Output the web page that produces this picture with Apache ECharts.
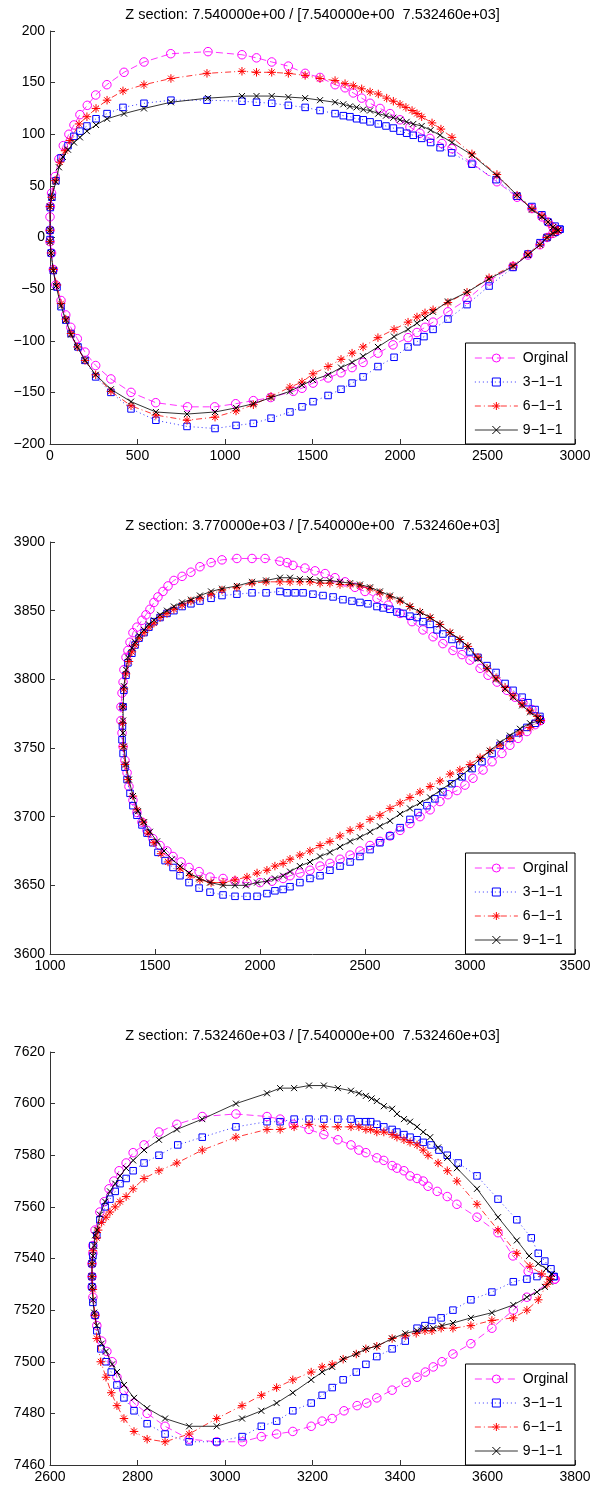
<!DOCTYPE html>
<html><head><meta charset="utf-8">
<script src="https://cdn.jsdelivr.net/npm/echarts@6/dist/echarts.min.js"></script>
<style>html,body{margin:0;padding:0;background:#fff}#c{width:592px;height:1488px}</style>
</head><body><div id="c"></div>
<script>
// ---------- DATA ----------
const seriesNames = ['Orginal', '3\u22121\u22121', '6\u22121\u22121', '9\u22121\u22121'];
const titles = [
  'Z section: 7.540000e+00 / [7.540000e+00  7.532460e+03]',
  'Z section: 3.770000e+03 / [7.540000e+00  7.532460e+03]',
  'Z section: 7.532460e+03 / [7.540000e+00  7.532460e+03]'
];
const xRanges = [[0, 3000, 500], [1000, 3500, 500], [2600, 3800, 200]];
const yRanges = [[-200, 200, 50], [3600, 3900, 50], [7460, 7620, 20]];

// Section 1
const p1Orig = [[2903,7],[2874,10],[2846,15],[2811,20],[2754,28],[2669,39],[2554,54],[2411,72],[2297,86],[2240,91],[2171,96],[2114,101],[2057,107],[2000,114],[1943,120],[1886,125],[1829,130],[1781,135],[1733,140],[1686,145],[1629,148],[1543,155],[1458,159],[1362,166],[1267,170],[1180,174],[1097,177],[903,180],[690,178],[537,170],[423,160],[325,148],[261,138],[213,128],[171,119],[137,109],[108,100],[76,89],[51,76],[29,59],[9,43],[2,30],[0,20],[0,7],[0,-4],[9,-15],[19,-31],[33,-46],[63,-61],[90,-75],[119,-87],[156,-98],[200,-111],[261,-124],[348,-137],[463,-150],[604,-160],[786,-164],[941,-164],[1061,-161],[1162,-158],[1261,-155],[1390,-149],[1440,-146],[1503,-141],[1589,-136],[1663,-131],[1726,-126],[1789,-121],[1874,-112],[1960,-104],[2046,-97],[2097,-92],[2143,-87],[2189,-82],[2274,-72],[2383,-60],[2509,-42],[2646,-28],[2731,-17],[2800,-7],[2840,0],[2874,4],[2903,7]];
const p1S3 = [[2914,8],[2886,11],[2846,15],[2811,22],[2754,30],[2669,40],[2549,56],[2411,71],[2295,82],[2229,87],[2175,92],[2124,96],[2076,99],[2038,101],[2000,103],[1962,106],[1920,108],[1876,110],[1829,112],[1790,114],[1752,115],[1714,117],[1676,118],[1629,120],[1543,123],[1458,126],[1362,128],[1267,130],[1180,131],[1097,132],[897,133],[691,133],[537,130],[417,126],[326,120],[263,115],[211,108],[171,103],[137,98],[103,89],[63,77],[34,55],[11,39],[2,29],[0,7],[0,-2],[6,-15],[19,-32],[40,-48],[63,-67],[90,-80],[120,-93],[160,-106],[200,-119],[261,-135],[348,-150],[463,-166],[605,-177],[783,-183],[943,-185],[1063,-182],[1162,-180],[1263,-175],[1371,-169],[1440,-164],[1503,-159],[1589,-153],[1663,-147],[1726,-141],[1789,-135],[1874,-125],[1966,-116],[2046,-106],[2097,-101],[2137,-96],[2189,-89],[2274,-79],[2383,-65],[2509,-47],[2646,-29],[2731,-16],[2800,-5],[2840,0],[2886,5],[2914,8]];
const p1S6 = [[2903,7],[2874,10],[2846,15],[2811,21],[2754,28],[2669,41],[2554,61],[2411,81],[2297,97],[2234,105],[2183,111],[2124,117],[2097,120],[2069,123],[2034,126],[2000,129],[1962,132],[1924,135],[1876,139],[1829,141],[1781,144],[1733,147],[1686,149],[1629,152],[1543,154],[1458,157],[1362,159],[1267,160],[1180,160],[1097,161],[897,159],[691,154],[537,148],[417,142],[326,133],[263,125],[211,117],[166,110],[114,94],[86,84],[57,73],[29,55],[9,39],[0,30],[0,7],[0,-4],[6,-15],[19,-31],[40,-46],[63,-64],[90,-79],[120,-93],[156,-106],[200,-119],[261,-133],[348,-149],[463,-163],[605,-172],[783,-177],[943,-174],[1063,-168],[1162,-162],[1263,-154],[1371,-145],[1440,-140],[1503,-132],[1589,-125],[1663,-118],[1726,-112],[1789,-106],[1874,-97],[1966,-89],[2046,-82],[2097,-77],[2143,-73],[2189,-70],[2274,-63],[2383,-53],[2509,-39],[2646,-27],[2731,-16],[2800,-7],[2840,0],[2874,4],[2903,7]];
const p1S9 = [[2903,7],[2874,10],[2846,15],[2811,20],[2754,27],[2669,41],[2554,60],[2411,80],[2297,92],[2229,99],[2175,104],[2124,108],[2076,110],[2038,112],[2000,114],[1962,116],[1920,118],[1876,120],[1829,123],[1790,124],[1752,126],[1714,127],[1676,129],[1629,131],[1543,133],[1458,135],[1362,136],[1267,137],[1180,137],[1097,137],[903,135],[691,131],[537,125],[423,120],[326,115],[263,109],[211,103],[171,97],[137,92],[103,85],[74,78],[51,68],[34,54],[9,39],[0,30],[0,7],[0,-4],[6,-15],[19,-32],[34,-47],[63,-66],[90,-80],[120,-94],[156,-106],[200,-119],[261,-133],[348,-147],[463,-159],[605,-169],[783,-171],[943,-169],[1063,-165],[1162,-161],[1263,-155],[1371,-149],[1440,-143],[1503,-138],[1589,-133],[1663,-126],[1726,-121],[1789,-115],[1874,-106],[1966,-96],[2046,-89],[2097,-83],[2143,-78],[2189,-72],[2274,-62],[2383,-53],[2509,-40],[2646,-28],[2731,-17],[2800,-7],[2840,0],[2874,4],[2903,7]];

// Section 2
const p2Orig = [[3335,3770],[3295,3778],[3252,3783],[3214,3787],[3176,3792],[3129,3798],[3086,3803],[3048,3808],[3000,3814],[2962,3818],[2919,3821],[2871,3826],[2824,3831],[2776,3836],[2724,3842],[2667,3848],[2610,3854],[2557,3859],[2500,3864],[2452,3867],[2405,3871],[2357,3874],[2310,3877],[2262,3879],[2214,3881],[2157,3883],[2129,3885],[2095,3886],[2024,3888],[1962,3888],[1890,3888],[1819,3887],[1767,3885],[1714,3882],[1671,3878],[1629,3875],[1590,3872],[1562,3868],[1538,3864],[1514,3860],[1495,3856],[1476,3851],[1457,3847],[1438,3843],[1414,3838],[1395,3834],[1381,3827],[1371,3821],[1362,3816],[1352,3807],[1348,3798],[1343,3790],[1338,3780],[1338,3770],[1343,3761],[1348,3751],[1357,3741],[1367,3732],[1376,3722],[1395,3712],[1414,3703],[1438,3696],[1462,3690],[1490,3684],[1524,3679],[1557,3675],[1586,3671],[1624,3667],[1662,3663],[1710,3660],[1762,3656],[1824,3655],[1881,3653],[1938,3652],[2000,3652],[2057,3653],[2110,3655],[2143,3657],[2190,3659],[2238,3661],[2286,3664],[2333,3666],[2381,3669],[2429,3672],[2476,3675],[2524,3679],[2571,3682],[2619,3686],[2667,3690],[2714,3695],[2762,3700],[2810,3705],[2857,3711],[2895,3716],[2938,3719],[2976,3723],[3014,3728],[3062,3734],[3105,3740],[3152,3746],[3190,3752],[3229,3757],[3271,3762],[3310,3767],[3335,3770]];
const p2S3 = [[3333,3773],[3310,3778],[3276,3783],[3248,3787],[3205,3792],[3167,3797],[3124,3805],[3081,3810],[3038,3816],[3000,3820],[2952,3825],[2914,3829],[2871,3833],[2843,3836],[2810,3840],[2776,3842],[2748,3845],[2714,3846],[2681,3848],[2652,3849],[2619,3851],[2586,3852],[2557,3853],[2514,3855],[2476,3856],[2438,3857],[2395,3858],[2348,3860],[2300,3861],[2252,3862],[2205,3863],[2167,3863],[2129,3863],[2095,3864],[2029,3863],[1962,3863],[1890,3862],[1819,3861],[1767,3859],[1714,3857],[1671,3855],[1629,3853],[1590,3850],[1557,3848],[1524,3845],[1495,3842],[1471,3838],[1448,3834],[1424,3830],[1405,3825],[1390,3819],[1371,3812],[1362,3803],[1352,3792],[1348,3780],[1345,3766],[1343,3756],[1348,3746],[1357,3736],[1367,3727],[1381,3717],[1395,3708],[1414,3701],[1438,3694],[1462,3688],[1490,3681],[1514,3674],[1548,3668],[1586,3663],[1619,3657],[1662,3652],[1710,3648],[1762,3645],[1824,3643],[1881,3642],[1938,3642],[1986,3642],[2033,3644],[2071,3646],[2110,3647],[2143,3649],[2190,3652],[2238,3655],[2286,3657],[2333,3661],[2381,3664],[2429,3667],[2476,3671],[2524,3676],[2571,3681],[2619,3686],[2667,3692],[2714,3698],[2752,3703],[2795,3708],[2833,3713],[2871,3718],[2914,3724],[2962,3729],[3010,3735],[3057,3740],[3105,3746],[3143,3752],[3190,3757],[3229,3761],[3271,3765],[3310,3768],[3333,3771]];
const p2S6 = [[3335,3770],[3320,3773],[3286,3777],[3248,3782],[3205,3788],[3167,3794],[3124,3801],[3081,3808],[3038,3816],[2990,3824],[2952,3829],[2905,3834],[2857,3840],[2810,3845],[2762,3849],[2714,3853],[2667,3857],[2619,3860],[2571,3863],[2524,3866],[2476,3868],[2429,3869],[2381,3869],[2333,3870],[2286,3870],[2238,3871],[2190,3871],[2143,3871],[2095,3871],[2029,3871],[1962,3870],[1890,3867],[1819,3865],[1767,3862],[1714,3859],[1671,3857],[1629,3854],[1590,3851],[1557,3848],[1524,3845],[1495,3841],[1471,3838],[1448,3834],[1424,3830],[1405,3825],[1390,3820],[1376,3813],[1362,3804],[1352,3793],[1346,3780],[1345,3768],[1348,3751],[1357,3738],[1371,3727],[1395,3715],[1414,3705],[1443,3696],[1467,3688],[1495,3681],[1529,3673],[1562,3667],[1619,3662],[1667,3657],[1714,3654],[1767,3652],[1824,3652],[1881,3654],[1938,3656],[1986,3659],[2033,3661],[2071,3664],[2110,3666],[2143,3669],[2190,3672],[2238,3675],[2286,3679],[2333,3682],[2381,3686],[2429,3690],[2476,3693],[2524,3698],[2571,3701],[2619,3706],[2667,3710],[2714,3714],[2762,3718],[2810,3722],[2857,3726],[2905,3731],[2952,3734],[3000,3738],[3048,3743],[3095,3748],[3143,3752],[3190,3757],[3238,3761],[3286,3765],[3335,3770]];
const p2S9 = [[3335,3770],[3324,3772],[3286,3776],[3248,3781],[3205,3787],[3167,3793],[3124,3800],[3081,3808],[3038,3815],[2990,3824],[2952,3829],[2905,3834],[2857,3840],[2810,3845],[2762,3849],[2714,3853],[2667,3858],[2619,3861],[2571,3864],[2524,3867],[2476,3869],[2429,3870],[2381,3871],[2333,3872],[2286,3872],[2238,3873],[2190,3873],[2143,3874],[2095,3874],[2029,3872],[1962,3871],[1890,3868],[1819,3866],[1767,3864],[1714,3861],[1671,3858],[1629,3856],[1590,3853],[1557,3850],[1524,3847],[1495,3843],[1471,3840],[1448,3836],[1424,3832],[1405,3827],[1390,3823],[1371,3816],[1362,3807],[1352,3795],[1348,3780],[1348,3770],[1348,3761],[1352,3751],[1362,3738],[1376,3727],[1395,3715],[1419,3704],[1448,3696],[1476,3689],[1510,3682],[1543,3675],[1581,3669],[1619,3664],[1662,3659],[1710,3655],[1762,3652],[1824,3650],[1881,3650],[1933,3650],[1986,3652],[2033,3653],[2071,3655],[2110,3657],[2143,3660],[2190,3664],[2238,3667],[2286,3671],[2333,3674],[2381,3678],[2429,3682],[2476,3685],[2524,3689],[2571,3693],[2619,3697],[2667,3702],[2714,3706],[2762,3710],[2810,3714],[2857,3719],[2905,3724],[2952,3729],[3000,3735],[3048,3742],[3095,3748],[3143,3754],[3190,3759],[3238,3764],[3286,3768],[3335,3770]];

// Section 3
const p3Orig = [[3754,7532],[3693,7535],[3658,7541],[3624,7550],[3576,7556],[3530,7561],[3508,7564],[3485,7566],[3464,7568],[3453,7570],[3439,7571],[3423,7572],[3409,7574],[3393,7575],[3382,7576],[3363,7578],[3347,7579],[3322,7581],[3306,7582],[3288,7584],[3258,7586],[3226,7588],[3192,7590],[3156,7592],[3126,7594],[3096,7595],[3025,7596],[2948,7595],[2890,7592],[2849,7589],[2815,7584],[2790,7581],[2774,7577],[2758,7574],[2746,7570],[2735,7567],[2724,7562],[2714,7558],[2703,7551],[2698,7545],[2698,7542],[2696,7538],[2696,7533],[2696,7529],[2698,7525],[2703,7518],[2707,7514],[2718,7508],[2730,7504],[2742,7500],[2753,7494],[2769,7489],[2792,7484],[2822,7480],[2863,7475],[2918,7470],[2981,7469],[3040,7469],[3083,7471],[3118,7472],[3155,7473],[3197,7475],[3222,7477],[3245,7478],[3272,7481],[3302,7483],[3324,7484],[3347,7486],[3382,7489],[3414,7492],[3439,7494],[3458,7496],[3476,7498],[3496,7500],[3521,7503],[3562,7507],[3610,7513],[3659,7520],[3690,7525],[3754,7532]];
const p3S3 = [[3752,7533],[3745,7536],[3731,7539],[3716,7542],[3700,7548],[3667,7555],[3624,7563],[3576,7572],[3533,7577],[3508,7580],[3489,7582],[3471,7584],[3453,7585],[3439,7586],[3423,7587],[3409,7588],[3393,7589],[3382,7590],[3363,7591],[3347,7592],[3333,7593],[3322,7593],[3306,7593],[3288,7594],[3258,7594],[3226,7594],[3192,7594],[3158,7594],[3126,7593],[3096,7593],[3025,7591],[2948,7587],[2892,7584],[2849,7580],[2815,7577],[2790,7574],[2774,7571],[2760,7569],[2749,7566],[2737,7563],[2726,7560],[2714,7555],[2707,7549],[2698,7545],[2698,7541],[2696,7538],[2696,7533],[2696,7529],[2698,7523],[2703,7518],[2707,7512],[2716,7505],[2728,7500],[2740,7496],[2753,7491],[2769,7486],[2792,7481],[2822,7476],[2863,7472],[2918,7469],[2981,7469],[3039,7471],[3083,7475],[3118,7477],[3155,7481],[3197,7484],[3222,7487],[3245,7490],[3270,7493],[3300,7496],[3322,7499],[3347,7502],[3382,7505],[3412,7508],[3439,7513],[3457,7514],[3473,7516],[3494,7517],[3521,7520],[3562,7524],[3610,7527],[3659,7531],[3690,7532],[3713,7533],[3752,7533]];
const p3S6 = [[3743,7532],[3724,7534],[3697,7537],[3667,7542],[3624,7551],[3576,7561],[3530,7570],[3508,7574],[3487,7577],[3464,7580],[3453,7582],[3439,7584],[3423,7585],[3409,7586],[3393,7587],[3382,7588],[3363,7589],[3347,7589],[3333,7590],[3322,7590],[3306,7591],[3288,7591],[3258,7591],[3226,7591],[3192,7592],[3158,7591],[3126,7590],[3096,7590],[3025,7587],[2948,7582],[2890,7577],[2849,7574],[2815,7571],[2790,7567],[2774,7564],[2760,7562],[2749,7560],[2737,7558],[2728,7556],[2718,7554],[2710,7551],[2707,7548],[2698,7543],[2696,7538],[2696,7533],[2698,7528],[2703,7518],[2707,7509],[2716,7500],[2728,7494],[2740,7488],[2753,7483],[2769,7478],[2792,7473],[2822,7470],[2863,7469],[2918,7472],[2981,7478],[3039,7483],[3083,7487],[3118,7490],[3155,7493],[3197,7496],[3222,7498],[3245,7499],[3270,7501],[3300,7503],[3322,7505],[3347,7506],[3382,7509],[3412,7510],[3437,7511],[3457,7512],[3473,7512],[3494,7513],[3521,7513],[3562,7514],[3610,7516],[3659,7517],[3690,7520],[3716,7524],[3736,7530],[3743,7532]];
const p3S9 = [[3747,7534],[3734,7536],[3716,7538],[3695,7541],[3667,7547],[3624,7556],[3576,7567],[3530,7575],[3508,7579],[3487,7583],[3469,7587],[3453,7589],[3439,7591],[3423,7593],[3409,7594],[3393,7596],[3382,7598],[3363,7599],[3347,7601],[3335,7602],[3322,7603],[3306,7604],[3288,7605],[3258,7606],[3226,7607],[3192,7607],[3158,7606],[3126,7606],[3096,7604],[3025,7600],[2948,7594],[2890,7590],[2849,7586],[2815,7582],[2790,7578],[2774,7575],[2760,7572],[2749,7569],[2737,7566],[2726,7562],[2714,7557],[2707,7551],[2703,7549],[2701,7545],[2698,7541],[2696,7538],[2696,7533],[2696,7529],[2698,7524],[2701,7519],[2707,7514],[2718,7507],[2728,7504],[2742,7499],[2753,7496],[2769,7491],[2792,7486],[2822,7482],[2863,7478],[2918,7475],[2981,7475],[3039,7478],[3083,7481],[3118,7484],[3155,7488],[3197,7493],[3222,7496],[3245,7498],[3270,7501],[3300,7503],[3322,7505],[3347,7506],[3382,7509],[3412,7511],[3439,7512],[3457,7513],[3476,7513],[3496,7514],[3521,7515],[3562,7517],[3610,7519],[3659,7522],[3690,7525],[3713,7527],[3731,7529],[3743,7531],[3747,7534]];

const sections = [[p1Orig, p1S3, p1S6, p1S9], [p2Orig, p2S3, p2S6, p2S9], [p3Orig, p3S3, p3S6, p3S9]];

// ---------- STYLE / LAYOUT ----------
const FONT = 'Liberation Sans, Arial, Helvetica, sans-serif';
const gridTops = [31, 542, 1052];
const gridHeights = [413, 412, 413];
const styles = [
  {color: '#ff00ff', symbol: 'circle', size: 8.5, dash: [7, 4]},
  {color: '#0000ff', symbol: 'rect', size: 6.5, dash: [1, 3]},
  {color: '#ff0000', symbol: 'path://M5,0L5,10M0,5L10,5M1.6,1.6L8.4,8.4M8.4,1.6L1.6,8.4', size: 8.5, dash: [6, 3, 1, 3]},
  {color: '#000000', symbol: 'path://M0,0L10,10M10,0L0,10', size: 6, dash: 'solid'}
];
const minusFmt = v => String(v).replace('-', '\u2212');

const grid = [], xAxis = [], yAxis = [], series = [], legend = [], graphic = [];
for (let g = 0; g < 3; g++) {
  grid.push({left: 50, width: 525, top: gridTops[g], height: gridHeights[g], outerBoundsMode: 'none', containLabel: false});
  const axisCommon = {
    gridIndex: g, type: 'value', splitLine: {show: false},
    axisLine: {show: true, onZero: false, lineStyle: {color: '#333', width: 1}},
    axisTick: {show: true, inside: true, length: 5, lineStyle: {color: '#333', width: 1}},
    axisLabel: {color: '#000', fontSize: 14, fontFamily: FONT, margin: 5, formatter: minusFmt, showMinLabel: true, showMaxLabel: true}
  };
  xAxis.push(Object.assign({}, axisCommon, {min: xRanges[g][0], max: xRanges[g][1], interval: xRanges[g][2]}));
  yAxis.push(Object.assign({}, axisCommon, {min: yRanges[g][0], max: yRanges[g][1], interval: yRanges[g][2]}));
  for (let k = 0; k < 4; k++) {
    const s = styles[k];
    series.push({
      type: 'line', name: seriesNames[k], xAxisIndex: g, yAxisIndex: g,
      data: sections[g][k], symbol: s.symbol, symbolSize: s.size, showSymbol: true,
      lineStyle: {color: s.color, width: 0.8, type: s.dash},
      itemStyle: {color: 'transparent', borderColor: s.color, borderWidth: 1},
      emphasis: {disabled: true}, silent: true, animation: false, z: 2 + k
    });
  }
  legend.push({
    data: seriesNames, orient: 'vertical', right: 17, bottom: 1488 - (gridTops[g] + gridHeights[g]),
    itemWidth: 43, itemHeight: 10, itemGap: 10, padding: [8, 7, 7, 9],
    backgroundColor: '#fff', borderColor: '#000', borderWidth: 1, borderRadius: 0,
    lineStyle: {width: 0.8}, itemStyle: {borderWidth: 1},
    textStyle: {color: '#000', fontSize: 14, fontFamily: FONT}, selectedMode: false
  });
  graphic.push({
    type: 'text', x: 312.5, y: gridTops[g] - 16, silent: true,
    style: {text: titles[g], fill: '#000', fontSize: 14.5, fontFamily: FONT, align: 'center', verticalAlign: 'middle'}
  });
}

const chart = echarts.init(document.getElementById('c'), null, {renderer: 'canvas'});
chart.setOption({animation: false, backgroundColor: '#fff', grid, xAxis, yAxis, series, legend, graphic});
</script></body></html>
